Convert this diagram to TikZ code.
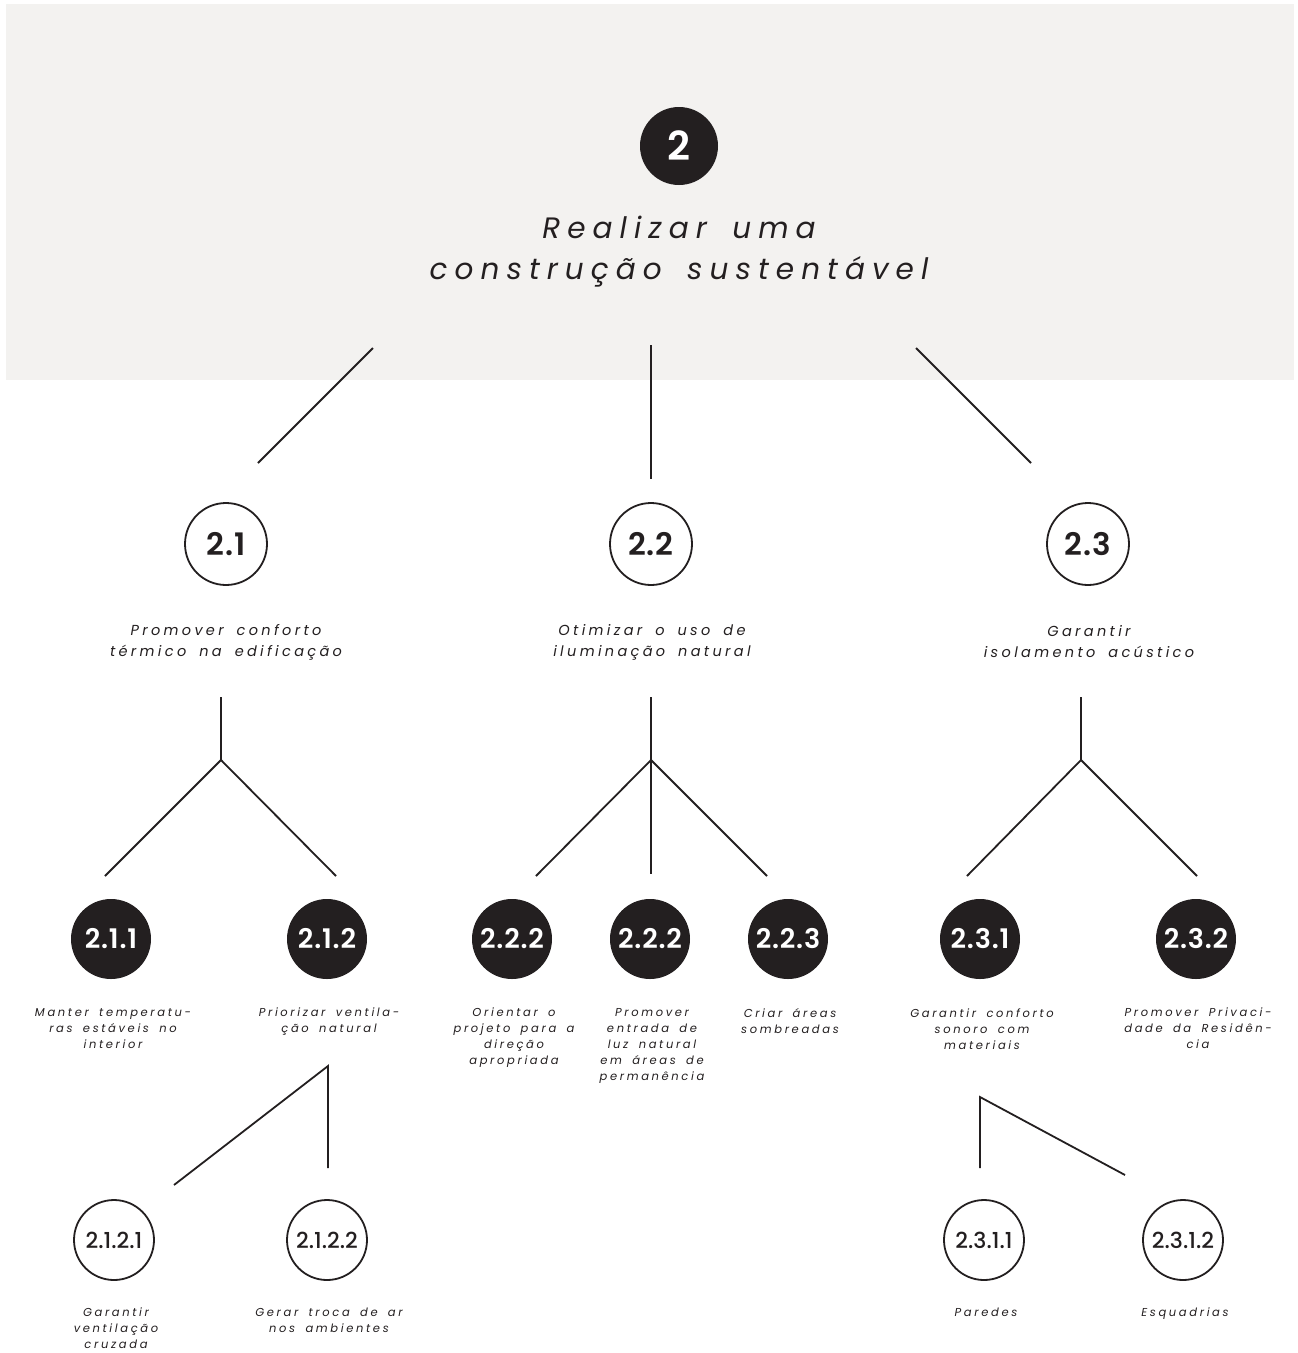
\documentclass[tikz,border=0pt]{standalone}
\usepackage{fontspec}
\setmainfont{Poppins}
\newfontfamily\ttlfont{Poppins}[LetterSpace=24, WordSpace=1.6]
\newfontfamily\labfont{Poppins}[LetterSpace=23, WordSpace=1.7]
\newfontfamily\numfont{Poppins}[BoldFont={* SemiBold}, LetterSpace=3]
\newfontfamily\mednumfont{Poppins}[BoldFont={* Medium}]
\definecolor{ink}{HTML}{231F20}
\definecolor{panel}{HTML}{F3F2F0}
\begin{document}
\begin{tikzpicture}[x=1pt,y=-1pt,
  link/.style={draw=ink, line width=1.8pt},
  solidc/.style={circle, fill=ink, minimum size=80pt, inner sep=0pt, text=white,
     font=\numfont\bfseries\fontsize{27}{27}\selectfont},
  openc/.style={circle, draw=ink, line width=1.8pt, fill=white, minimum size=82pt, inner sep=0pt, text=ink,
     font=\numfont\bfseries\fontsize{31}{31}\selectfont},
  open4/.style={openc, minimum size=80pt, font=\mednumfont\bfseries\fontsize{22}{22}\selectfont},
  lab2/.style={align=center, text=ink, inner sep=0pt, font=\labfont\itshape\fontsize{14.5}{21}\selectfont},
  lab3/.style={align=center, text=ink, inner sep=0pt, anchor=north, font=\labfont\itshape\fontsize{11.5}{16}\selectfont}]

\useasboundingbox (0,0) rectangle (1298,1353);
\fill[white] (0,0) rectangle (1298,1353);
\fill[panel] (6,4) rectangle (1294,380);

% top
\node[solidc, minimum size=78pt, font=\numfont\bfseries\fontsize{40}{40}\selectfont] (n2) at (679,146) {2};
\node[align=center, text=ink, inner sep=0pt, font=\ttlfont\itshape\fontsize{29.5}{41}\selectfont] (t2) at (679,252)
  {Realizar uma\hspace{22pt}\\construção sustentável};

% level 2
\node[openc] (n21) at (226,544) {2.1};
\node[openc] (n22) at (651,544) {2.2};
\node[openc] (n23) at (1088,544) {2.3};
\node[lab2] (t21) at (226,642) {Promover conforto\\térmico na edificação};
\node[lab2] (t22) at (652,642) {Otimizar o uso de\\iluminação natural};
\node[lab2] (t23) at (1089,642) {Garantir\\isolamento acústico};

% level 3
\node[solidc] (n211) at (111,939) {2.1.1};
\node[solidc] (n212) at (327,939) {2.1.2};
\node[solidc] (n221) at (512,939) {2.2.2};
\node[solidc] (n222) at (650,939) {2.2.2};
\node[solidc] (n223) at (788,939) {2.2.3};
\node[solidc] (n231) at (980,939) {2.3.1};
\node[solidc] (n232) at (1196,939) {2.3.2};

\node[lab3] (t211) at (113,1008) {Manter temperatu-\\ras estáveis no\\interior};
\node[lab3] (t212) at (329,1008) {Priorizar ventila-\\ção natural};
\node[lab3] (t221) at (514,1008) {Orientar o\\projeto para a\\direção\\apropriada};
\node[lab3] (t222) at (652,1008) {Promover\\entrada de\\luz natural\\em áreas de\\permanência};
\node[lab3] (t223) at (790,1008) {Criar áreas\\sombreadas};
\node[lab3] (t231) at (982,1008) {Garantir conforto\\sonoro com\\materiais};
\node[lab3] (t232) at (1198,1008) {Promover Privaci-\\dade da Residên-\\cia};

% level 4
\node[open4] (n2121) at (114,1240) {2.1.2.1};
\node[open4] (n2122) at (327,1240) {2.1.2.2};
\node[open4] (n2311) at (984,1240) {2.3.1.1};
\node[open4] (n2312) at (1183,1240) {2.3.1.2};

\node[lab3] (t2121) at (116,1308) {Garantir\\ventilação\\cruzada};
\node[lab3] (t2122) at (329,1308) {Gerar troca de ar\\nos ambientes};
\node[lab3] (t2311) at (986,1308) {Paredes};
\node[lab3] (t2312) at (1185,1308) {Esquadrias};

% connector end points
\coordinate (a1) at (373,348); \coordinate (b1) at (258,463);
\coordinate (a2) at (651,345); \coordinate (b2) at (651,479);
\coordinate (a3) at (916,348); \coordinate (b3) at (1031,463);

\coordinate (s21) at (221,697); \coordinate (j21) at (221,760);
\coordinate (e211) at (105,876); \coordinate (e212) at (336,876);
\coordinate (s22) at (651,697); \coordinate (j22) at (651,760);
\coordinate (e221) at (536,876); \coordinate (e222) at (651,874); \coordinate (e223) at (767,876);
\coordinate (s23) at (1081,697); \coordinate (j23) at (1081,760);
\coordinate (e231) at (967,876); \coordinate (e232) at (1197,876);

\coordinate (j212) at (328,1066); \coordinate (e2121) at (174,1185); \coordinate (e2122) at (328,1168);
\coordinate (j231) at (980,1097); \coordinate (e2311) at (980,1168); \coordinate (e2312) at (1125,1175);

\draw[link] (a1) -- (b1);
\draw[link] (a2) -- (b2);
\draw[link] (a3) -- (b3);

\draw[link] (s21) -- (j21);
\draw[link] (e211) -- (j21) -- (e212);
\draw[link] (s22) -- (j22) -- (e222);
\draw[link] (e221) -- (j22) -- (e223);
\draw[link] (s23) -- (j23);
\draw[link] (e231) -- (j23) -- (e232);

\draw[link] (e2121) -- (j212) -- (e2122);
\draw[link] (e2311) -- (j231) -- (e2312);
\end{tikzpicture}
\end{document}
